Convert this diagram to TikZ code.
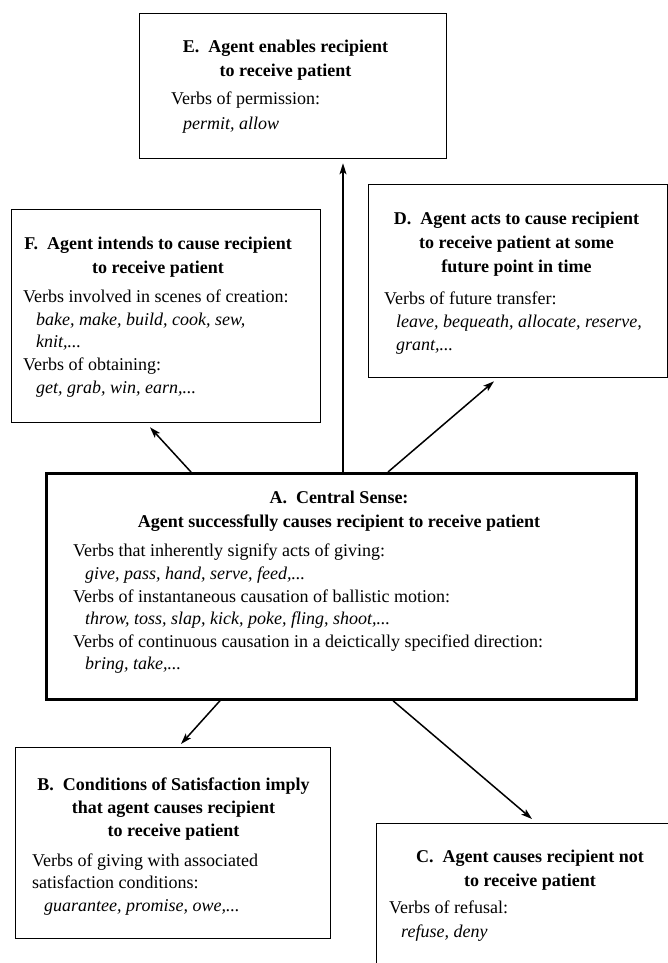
\documentclass[tikz,border=0pt]{standalone}
\usepackage{fontspec}
\setmainfont{Liberation Serif}
\usetikzlibrary{arrows.meta,calc}
\begin{document}
\begin{tikzpicture}[x=1pt,y=-1pt,
  box/.style={draw, line width=1.3pt, inner sep=0pt, anchor=north west},
  mainbox/.style={box, line width=2.7pt},
  ttl/.style={font=\fontsize{18}{23}\selectfont\bfseries, anchor=base, inner sep=0pt},
  txt/.style={font=\fontsize{18}{23}\selectfont, anchor=base west, inner sep=0pt},
  ex/.style={font=\fontsize{18}{23}\selectfont\itshape, anchor=base west, inner sep=0pt},
  arr/.style={-{Stealth[length=11pt,width=7pt,inset=2.5pt]}, line width=1.5pt}]
\useasboundingbox (0,0) rectangle (668,963);
\clip (0,0) rectangle (668,963);
% boxes
\node[box, minimum width=307pt, minimum height=145pt] (E) at (139,13) {};
\node[box, minimum width=309pt, minimum height=213pt] (F) at (11,209) {};
\node[box, minimum width=298.5pt, minimum height=193pt] (D) at (368,184) {};
\node[mainbox, minimum width=590pt, minimum height=226pt] (A) at (45,472) {};
\node[box, minimum width=315pt, minimum height=191pt] (B) at (15,747) {};
\node[box, minimum width=340pt, minimum height=200pt] (C) at (376,823) {};
% E
\node[ttl] (e1) at (285.5,53) {E.\ \ Agent enables recipient};
\node[ttl] (e2) at (285.5,77) {to receive patient};
\node[txt] (e3) at (171,105) {Verbs of permission:};
\node[ex] (e4) at (183,129) {permit, allow};
% F
\node[ttl] (f1) at (158,249) {F.\ \ Agent intends to cause recipient};
\node[ttl] (f2) at (158,273) {to receive patient};
\node[txt] (f3) at (23,302) {Verbs involved in scenes of creation:};
\node[ex] (f4) at (36,325) {bake, make, build, cook, sew,};
\node[ex] (f5) at (36,347) {knit,...};
\node[txt] (f6) at (23,370) {Verbs of obtaining:};
\node[ex] (f7) at (36,393) {get, grab, win, earn,...};
% D
\node[ttl] (d1) at (516.5,224) {D.\ \ Agent acts to cause recipient};
\node[ttl] (d2) at (516.5,248) {to receive patient at some};
\node[ttl] (d3) at (516.5,272) {future point in time};
\node[txt] (d4) at (384,304) {Verbs of future transfer:};
\node[ex] (d5) at (396,327) {leave, bequeath, allocate, reserve,};
\node[ex] (d6) at (396,350) {grant,...};
% A
\node[ttl] (a1) at (339,503) {A.\ \ Central Sense:};
\node[ttl] (a2) at (339,527) {Agent successfully causes recipient to receive patient};
\node[txt] (a3) at (73,556) {Verbs that inherently signify acts of giving:};
\node[ex] (a4) at (85,579) {give, pass, hand, serve, feed,...};
\node[txt] (a5) at (73,602) {Verbs of instantaneous causation of ballistic motion:};
\node[ex] (a6) at (85,624) {throw, toss, slap, kick, poke, fling, shoot,...};
\node[txt] (a7) at (73,647) {Verbs of continuous causation in a deictically specified direction:};
\node[ex] (a8) at (85,669) {bring, take,...};
% B
\node[ttl] (b1) at (173.5,790) {B.\ \ Conditions of Satisfaction imply};
\node[ttl] (b2) at (173.5,813) {that agent causes recipient};
\node[ttl] (b3) at (173.5,836) {to receive patient};
\node[txt] (b4) at (32,866) {Verbs of giving with associated};
\node[txt] (b5) at (32,888) {satisfaction conditions:};
\node[ex] (b6) at (44,911) {guarantee, promise, owe,...};
% C
\node[ttl] (c1) at (530,862) {C.\ \ Agent causes recipient not};
\node[ttl] (c2) at (530,886) {to receive patient};
\node[txt] (c3) at (389,913) {Verbs of refusal:};
\node[ex] (c4) at (401,937) {refuse, deny};
% connectors
\draw[arr] ($(A.north west)+(298,0)$) -- ($(E.south west)+(204,4)$);
\draw[arr] ($(A.north west)+(146,0)$) -- ($(F.south west)+(139,4)$);
\draw[arr] ($(A.north west)+(343,0)$) -- ($(D.south west)+(126,3)$);
\draw[arr] ($(A.south west)+(175,0)$) -- ($(B.north west)+(166,-3)$);
\draw[arr] ($(A.south west)+(348,0)$) -- ($(C.north west)+(156,-4)$);
\end{tikzpicture}
\end{document}
